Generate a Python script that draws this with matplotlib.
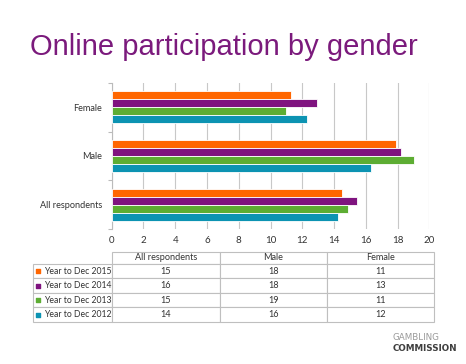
import matplotlib.pyplot as plt
import numpy as np

# chart data
categories = ['All respondents', 'Male', 'Female']
series = ['Year to Dec 2015', 'Year to Dec 2014', 'Year to Dec 2013', 'Year to Dec 2012']
colors = ['#FF6600', '#7F137F', '#5DAD33', '#0C93B2']
values = {
    'Year to Dec 2015': [14.5, 17.9, 11.3],
    'Year to Dec 2014': [15.45, 18.2, 12.9],
    'Year to Dec 2013': [14.9, 19.05, 10.95],
    'Year to Dec 2012': [14.25, 16.3, 12.3],
}
# rounded values as printed in the data table
table_values = {
    'Year to Dec 2015': ['15', '18', '11'],
    'Year to Dec 2014': ['16', '18', '13'],
    'Year to Dec 2013': ['15', '19', '11'],
    'Year to Dec 2012': ['14', '16', '12'],
}
table_cols = ['All respondents', 'Male', 'Female']

plt.rcParams['font.family'] = ['Lato', 'DejaVu Sans']

fig = plt.figure(figsize=(4.66, 3.64), dpi=100)
ax = fig.add_axes([0.2397, 0.371, 0.6816, 0.401])

y = np.arange(len(categories))
h = 0.165
for i, s in enumerate(series):
    ax.barh(y + (1.5 - i) * h, values[s], height=h, color=colors[i],
            edgecolor='white', linewidth=0.6, zorder=3)

ax.set_xlim(0, 20)
ax.set_ylim(-0.5, 2.5)
ax.set_xticks(np.arange(0, 21, 2))
ax.set_yticks(y)
ax.set_yticklabels(categories)
ax.set_yticks([-0.5, 0.5, 1.5, 2.5], minor=True)
ax.tick_params(axis='y', which='major', length=0, pad=7, labelsize=6.6, labelcolor='#333333')
ax.tick_params(axis='y', which='minor', length=3, color='#BBBBBB', width=0.8)
ax.tick_params(axis='x', length=0, pad=5, labelsize=7, labelcolor='#333333')
ax.grid(axis='x', color='#C8C8C8', linewidth=0.8, zorder=0)
for sp in ['top', 'right', 'bottom']:
    ax.spines[sp].set_visible(False)
ax.spines['left'].set_color('#BBBBBB')
ax.spines['left'].set_linewidth(0.8)

# data table under the chart (first column holds the series names)
cell_text = [[s] + table_values[s] for s in series]
tbl = ax.table(cellText=cell_text, colLabels=[''] + table_cols,
               cellLoc='center', colWidths=[0.248, 0.34, 0.337, 0.338],
               bbox=[-0.248, -0.637, 1.2626, 0.4795])
tbl.auto_set_font_size(False)
tbl.set_fontsize(6.6)
for (r, c), cell in tbl.get_celld().items():
    cell.set_edgecolor('#BFBFBF')
    cell.set_linewidth(0.8)
    cell.get_text().set_color('#333333')
    if r == 0:
        cell.set_height(cell.get_height() * 0.83)
    if c == 0:
        cell.PAD = 0.14
        cell.get_text().set_horizontalalignment('left')
        cell.get_text().set_fontsize(6.2)
tbl[0, 0].visible_edges = ''

# colour keys in the row label cells
hdr = 0.83
row_h = 0.4795 / (4 + hdr)
for i, s in enumerate(series):
    yk = -0.637 + row_h * (3.5 - i)
    ax.scatter([-0.231], [yk], marker='s', s=11, color=colors[i],
               transform=ax.transAxes, clip_on=False, zorder=5)

fig.text(0.064, 0.849, 'Online participation by gender', fontsize=21,
         color='#7B1A7C', family='Liberation Sans', va='baseline')

fig.text(0.842, 0.066, 'GAMBLING', fontsize=6.3, color='#9A9A9A', family='DejaVu Sans', va='baseline')
fig.text(0.842, 0.036, 'COMMISSION', fontsize=6.3, color='#3F3F3F', family='DejaVu Sans',
         weight='semibold', va='baseline')

fig.savefig('out.png', dpi=100)
